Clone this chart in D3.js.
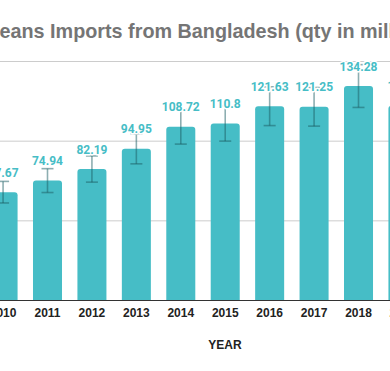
<!DOCTYPE html>
<html>
    <head>
        <meta charset="utf-8" />
        <title>Jeans Imports from Bangladesh</title>
        <script src="https://d3js.org/d3.v7.min.js"></script>
        <style>
            body {
                margin: 0;
                background: #fff;
            }
            svg {
                display: block;
            }
            .grid line {
                stroke: #cccccc;
            }
            .grid path,
            .grid text {
                display: none;
            }
            .x-axis path {
                stroke: #333;
            }
            .x-axis text {
                font-family: 'Liberation Sans', Arial, sans-serif;
                font-weight: bold;
                font-size: 12px;
                fill: #222;
            }
            .value-label {
                font-family: Roboto, sans-serif;
                font-weight: bold;
                font-size: 12px;
                fill: #46bdc6;
                stroke: #fff;
                stroke-width: 3px;
                paint-order: stroke;
                stroke-linejoin: round;
            }
        </style>
    </head>
    <body>
        <script>
            // values
            const years = ['2010', '2011', '2012', '2013', '2014', '2015', '2016', '2017', '2018', '2019'];
            const imports = [67.67, 74.94, 82.19, 94.95, 108.72, 110.8, 121.63, 121.25, 134.28, 121.9];
            const gridTicks = [50, 100, 150];
            const errorShare = 0.1; // error bars are +/- 10% of the value

            const width = 390,
                height = 371;

            const svg = d3.select('body').append('svg').attr('width', width).attr('height', height);

            // plot area is wider than the window, the picture is cropped on both sides
            const step = 44.43;
            const firstCenter = 3.07;
            const x = d3
                .scaleBand()
                .domain(years)
                .range([firstCenter - step / 2, firstCenter - step / 2 + step * years.length])
                .paddingInner(0.347)
                .paddingOuter(0.1735);

            const y = d3.scaleLinear().domain([0, 150]).range([300, 61]);

            svg.append('g')
                .attr('class', 'grid')
                .attr('transform', 'translate(-30,0)')
                .call(d3.axisLeft(y).tickValues(gridTicks).tickSize(-460));

            const data = years.map((yr, i) => ({ year: yr, value: imports[i] }));

            const r = 3;
            svg.append('g')
                .selectAll('path')
                .data(data)
                .join('path')
                .attr('fill', '#46bdc6')
                .attr('d', (d) => {
                    const x0 = x(d.year),
                        x1 = x0 + x.bandwidth(),
                        y0 = y(0),
                        y1 = y(d.value);
                    return `M${x0},${y0}V${y1 + r}Q${x0},${y1} ${x0 + r},${y1}H${x1 - r}Q${x1},${y1} ${x1},${y1 + r}V${y0}Z`;
                });

            // error bars
            const cap = 6;
            const err = svg
                .append('g')
                .attr('stroke', '#1b5e63')
                .attr('stroke-opacity', 0.5)
                .attr('stroke-width', 1.6)
                .selectAll('g')
                .data(data)
                .join('g')
                .attr('transform', (d) => `translate(${x(d.year) + x.bandwidth() / 2},0)`);
            err.append('line')
                .attr('y1', (d) => y(d.value * (1 + errorShare)))
                .attr('y2', (d) => y(d.value * (1 - errorShare)));
            err.append('line')
                .attr('x1', -cap)
                .attr('x2', cap)
                .attr('y1', (d) => y(d.value * (1 + errorShare)))
                .attr('y2', (d) => y(d.value * (1 + errorShare)));
            err.append('line')
                .attr('x1', -cap)
                .attr('x2', cap)
                .attr('y1', (d) => y(d.value * (1 - errorShare)))
                .attr('y2', (d) => y(d.value * (1 - errorShare)));

            svg.append('g')
                .selectAll('text')
                .data(data)
                .join('text')
                .attr('class', 'value-label')
                .attr('text-anchor', 'middle')
                .attr('x', (d) => x(d.year) + x.bandwidth() / 2)
                .attr('y', (d) => y(d.value) - 15.5)
                .text((d) => d.value);

            const xAxis = svg
                .append('g')
                .attr('class', 'x-axis')
                .attr('transform', `translate(0,${y(0)})`)
                .call(d3.axisBottom(x).tickSize(0).tickSizeOuter(0).tickPadding(8));
            xAxis.select('.domain').attr('stroke-width', 1.2);
            xAxis.selectAll('text').attr('dy', '0.71em');

            svg.append('text')
                .attr('x', 225)
                .attr('y', 348.5)
                .attr('text-anchor', 'middle')
                .style('font-family', "'Liberation Sans', Arial, sans-serif")
                .style('font-weight', 'bold')
                .style('font-size', '12px')
                .style('fill', '#222')
                .text('YEAR');

            svg.append('text')
                .attr('x', -11.5)
                .attr('y', 38)
                .style('font-family', "'Liberation Sans', Arial, sans-serif")
                .style('font-weight', 'bold')
                .style('font-size', '19.8px')
                .style('fill', '#757575')
                .text('Jeans Imports from Bangladesh (qty in million)');
        </script>
    </body>
</html>
